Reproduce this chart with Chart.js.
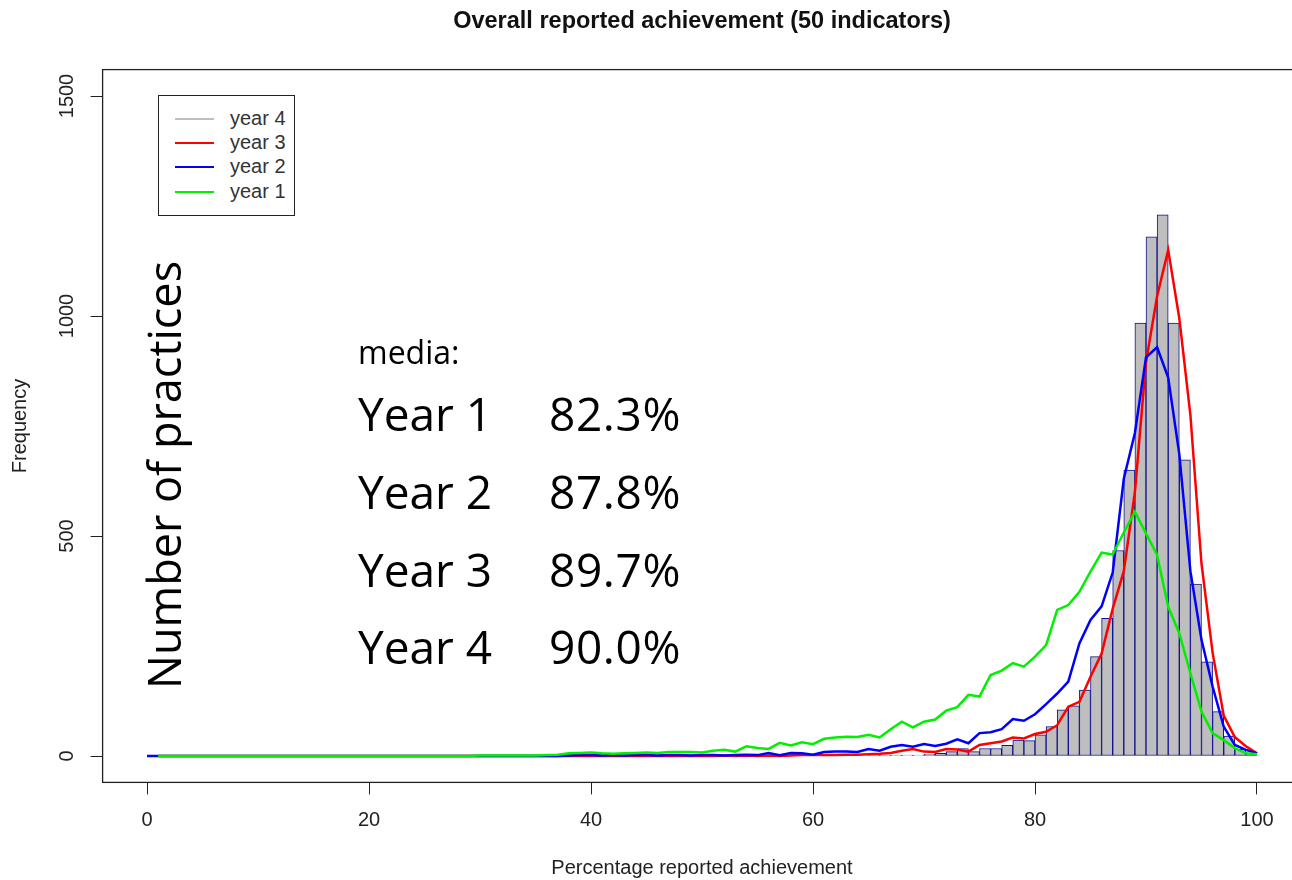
<!DOCTYPE html>
<html>
<head>
<meta charset="utf-8">
<script src="https://cdn.jsdelivr.net/npm/chart.js@4.4.0/dist/chart.umd.min.js"></script>
<style>
  html, body { margin: 0; padding: 0; background: #fff; overflow: hidden; width: 1292px; height: 880px; }
  #wrap { position: absolute; left: 0; top: 0; width: 1310px; height: 880px; }
  #chart { position: absolute; left: 0; top: 0; }
  .note { position: absolute; font-family: 'Open Sans', sans-serif; color: #000; line-height: 1; white-space: nowrap; }
  #legend { position: absolute; left: 158px; top: 95px; width: 137px; height: 121px; box-sizing: border-box; border: 1px solid #222; background: #fff; }
  .lg-row { position: absolute; left: 0; height: 0; }
  .lg-line { position: absolute; left: 16px; width: 39px; height: 2px; top: -1px; }
  .lg-text { position: absolute; left: 71px; top: -11px; font: 20px 'Liberation Sans', Arial, sans-serif; line-height: 20px; color: #333; white-space: nowrap; }
</style>
</head>
<body>
<div id="wrap">
  <canvas id="chart" width="1310" height="880"></canvas>
  <div id="legend"></div>
  <div class="note" style="left:141px; top:689px; font-size:45px; transform-origin:0 0; transform:rotate(-90deg);">Number of practices</div>
  <div class="note" style="left:358px; top:335.6px; font-size:32px;">media:</div>
  <div id="rows"></div>
</div>
<script>
// percentage values (x) for the frequency polygons
const pct = [0,1,2,3,4,5,6,7,8,9,10,11,12,13,14,15,16,17,18,19,20,
  21,22,23,24,25,26,27,28,29,30,31,32,33,34,35,36,37,38,39,40,
  41,42,43,44,45,46,47,48,49,50,51,52,53,54,55,56,57,58,59,60,
  61,62,63,64,65,66,67,68,69,70,71,72,73,74,75,76,77,78,79,80,
  81,82,83,84,85,86,87,88,89,90,91,92,93,94,95,96,97,98,99,100];

const year1 = [null,
  0,0,0,0,0,0,0,0,0,0,
  0,0,0,0,0,0,0,0,0,0,
  0,0,0,0,0,0,0,0,0,1,
  1,1,1,1,1,2,3,6,7,8,
  6,5,6,7,8,7,9,9,9,8,
  12,14,10,22,18,16,30,24,31,27,
  39,42,44,43,48,42,61,78,65,78,
  83,103,111,139,135,184,194,211,203,226,
  252,332,343,373,419,462,458,508,555,506,
  457,339,279,188,101,52,36,18,6,4];

const year2 = [0,
  0,0,0,0,0,0,0,0,0,0,
  0,0,0,0,0,0,0,0,0,0,
  0,0,0,0,0,0,0,0,0,0,
  0,0,0,0,0,0,0,1,2,2,
  1,2,1,2,2,1,2,2,1,2,
  2,1,2,3,2,7,2,7,6,3,
  9,10,10,9,16,12,21,25,21,27,
  23,28,38,29,52,54,61,84,80,95,
  118,142,169,256,309,340,417,630,734,906,
  929,860,686,420,264,158,67,25,14,6];

const year3 = [null,
  0,0,0,0,0,0,0,0,0,0,
  0,0,0,0,0,0,0,0,0,0,
  0,0,0,0,0,0,0,0,0,0,
  0,0,0,0,0,0,0,0,0,0,
  0,0,0,0,0,0,0,0,0,0,
  0,1,0,1,0,1,0,1,2,2,
  2,2,3,3,4,5,7,12,16,10,
  9,16,15,10,25,29,33,42,40,50,
  55,70,112,123,180,233,335,420,600,895,
  1045,1150,995,775,437,235,92,43,22,6];

// histogram of year 4: bins [start, start+1)
const binStart = [40,41,42,43,44,45,46,47,48,49,50,51,52,53,54,55,56,57,58,59,
  60,61,62,63,64,65,66,67,68,69,70,71,72,73,74,75,76,77,78,79,
  80,81,82,83,84,85,86,87,88,89,90,91,92,93,94,95,96,97,98,99];
const year4 = [0,0,0,0,0,0,0,0,0,0,0,0,0,0,0,0,0,0,0,0,
  0,0,0,1,0,1,1,1,2,2,4,6,10,17,10,17,17,24,36,35,
  48,67,105,114,150,226,313,467,650,984,1180,1230,984,673,391,214,101,45,15,5];

const xTicks = [0, 20, 40, 60, 80, 100];
const yTicks = [0, 500, 1000, 1500];

const yearLabels = ['Year 1', 'Year 2', 'Year 3', 'Year 4'];
const medians = ['82.3%', '87.8%', '89.7%', '90.0%'];

const seriesColors = { 'year 4': '#bebebe', 'year 3': '#ff0000', 'year 2': '#0000ff', 'year 1': '#00f000' };

const toPoints = (xs, ys) => xs.map((x, i) => ({ x: x, y: ys[i] }));

Chart.defaults.font.family = "'Liberation Sans', Arial, sans-serif";
Chart.defaults.color = '#222';

const plotBox = {
  id: 'plotBox',
  afterDraw(chart) {
    const { ctx, chartArea: a } = chart;
    ctx.save();
    ctx.strokeStyle = '#222';
    ctx.lineWidth = 1.3;
    ctx.strokeRect(a.left, a.top, a.right - a.left, a.bottom - a.top);
    ctx.restore();
  }
};

const lineSet = (label, values, order) => ({
  type: 'line', label: label, data: toPoints(pct, values),
  borderColor: seriesColors[label], borderWidth: 2.5,
  pointRadius: 0, tension: 0, fill: false, order: order
});

const chart = new Chart(document.getElementById('chart'), {
  type: 'bar',
  data: {
    datasets: [
      {
        label: 'year 4',
        data: binStart.map((b, i) => ({ x: b + 0.5, y: year4[i] })),
        backgroundColor: seriesColors['year 4'],
        borderColor: '#10108f',
        borderWidth: 1,
        borderSkipped: false,
        barPercentage: 1,
        categoryPercentage: 1,
        order: 3
      },
      lineSet('year 3', year3, 2),
      lineSet('year 2', year2, 1),
      lineSet('year 1', year1, 0)
    ]
  },
  options: {
    responsive: false,
    animation: false,
    layout: { padding: { left: 0, right: 8.6, top: 0, bottom: 0 } },
    plugins: {
      legend: { display: false },
      tooltip: { enabled: false },
      title: {
        display: true,
        fullSize: false,
        text: 'Overall reported achievement (50 indicators)',
        color: '#111',
        font: { size: 23.5, weight: 'bold' },
        padding: { top: 7, bottom: 34.4 }
      }
    },
    scales: {
      x: {
        type: 'linear',
        min: -4,
        max: 104,
        offset: false,
        afterBuildTicks: s => { s.ticks = xTicks.map(v => ({ value: v })); },
        afterFit: s => { s.height = 97.6; },
        grid: { offset: false, drawOnChartArea: false, drawTicks: true, tickLength: 12, color: '#222' },
        border: { display: false },
        ticks: { padding: 14, maxRotation: 0, color: '#222', font: { size: 20 }, callback: v => String(v) },
        title: { display: true, text: 'Percentage reported achievement', color: '#222', font: { size: 20 }, padding: { top: 0, bottom: 0 } }
      },
      y: {
        min: -60,
        max: 1560,
        afterBuildTicks: s => { s.ticks = yTicks.map(v => ({ value: v })); },
        afterFit: s => { s.width = 102.6; },
        grid: { drawOnChartArea: false, drawTicks: true, tickLength: 12, color: '#222' },
        border: { display: false },
        ticks: { padding: 1, minRotation: 90, maxRotation: 90, crossAlign: 'center', color: '#222', font: { size: 20 }, callback: v => String(v) },
        title: { display: true, text: 'Frequency', color: '#222', font: { size: 20 }, padding: { top: 8, bottom: 0 } }
      }
    }
  },
  plugins: [plotBox]
});

// legend box built from the dataset labels
const legend = document.getElementById('legend');
legend.innerHTML = chart.data.datasets.map((ds, i) => `
  <div class="lg-row" style="top:${23 + Math.round(i * 24.2)}px">
    <div class="lg-line" style="background-color:${seriesColors[ds.label]}"></div>
    <div class="lg-text">${ds.label}</div>
  </div>`).join('');

// median annotations
const rows = document.getElementById('rows');
rows.innerHTML = yearLabels.map((label, i) => `
  <div class="note" style="left:358px; top:${390.2 + i * 77.7}px; font-size:46px;">${label}</div>
  <div class="note" style="left:549px; top:${390.2 + i * 77.7}px; font-size:46px; letter-spacing:0.6px;">${medians[i]}</div>
`).join('');
</script>
</body>
</html>
